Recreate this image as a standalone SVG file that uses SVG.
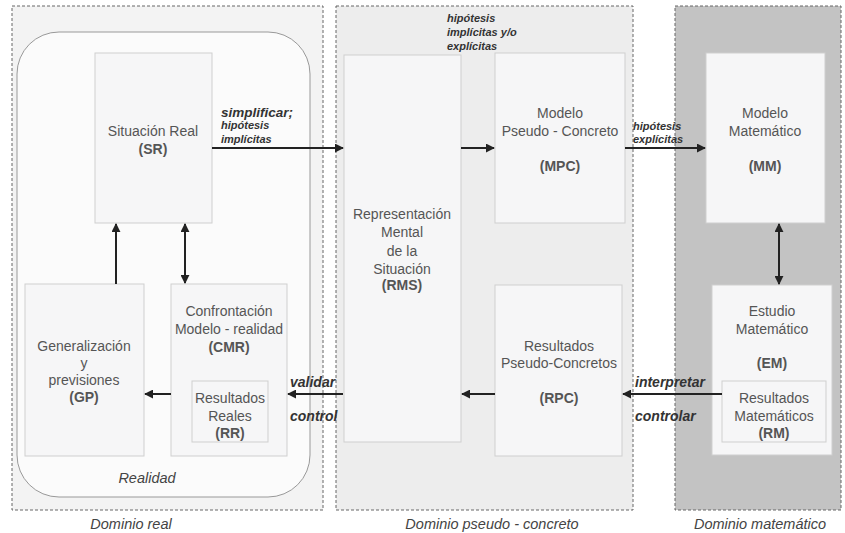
<svg xmlns="http://www.w3.org/2000/svg" width="845" height="533" viewBox="0 0 845 533">
<style>
.dom{stroke:#666;stroke-width:1;stroke-dasharray:3,2}
.box{fill:#f6f6f7;stroke:#cfcfcf;stroke-width:1}
.t{font-family:"Liberation Sans",Arial,sans-serif;font-size:14px;fill:#555;text-anchor:middle}
.b{font-weight:bold}
.lab{font-family:"Liberation Sans",Arial,sans-serif;font-style:italic;font-weight:bold;fill:#333}
.cap{font-family:"Liberation Sans",Arial,sans-serif;font-style:italic;font-size:14.5px;fill:#444;text-anchor:middle}
.c{stroke:#222;stroke-width:2;fill:none}
</style>
<defs>
<marker id="ah" viewBox="0 0 10 10" refX="9" refY="5" markerWidth="4.5" markerHeight="4.5" orient="auto-start-reverse">
<path d="M0,0 L10,5 L0,10 z" fill="#222"/>
</marker>
</defs>
<rect width="845" height="533" fill="#ffffff"/>
<g id="dominio-real">
<rect class="dom" x="12" y="6" width="311" height="504" fill="#f3f3f3"/>
<rect x="17" y="32" width="293" height="465" rx="42" fill="#fbfbfb" stroke="#999" stroke-width="1"/>
<text class="cap" x="147" y="483">Realidad</text>
<text class="cap" x="131" y="529">Dominio real</text>
</g>
<g id="dominio-pseudo">
<rect class="dom" x="336" y="6" width="297" height="504" fill="#ededed"/>
<text class="cap" x="492" y="529">Dominio pseudo - concreto</text>
</g>
<g id="dominio-mat">
<rect class="dom" x="675" y="6" width="166" height="504" fill="#c3c3c3"/>
<text class="cap" x="760" y="529">Dominio  matemático</text>
</g>
<g id="SR">
<rect class="box" x="95" y="53" width="117" height="170"/>
<text class="t" x="153" y="136">Situación Real</text>
<text class="t b" x="153" y="154">(SR)</text>
</g>
<g id="GP">
<rect class="box" x="25" y="284" width="119" height="172"/>
<text class="t" x="84" y="351">Generalización</text>
<text class="t" x="84" y="368">y</text>
<text class="t" x="84" y="385">previsiones</text>
<text class="t b" x="84" y="402">(GP)</text>
</g>
<g id="CMR">
<rect class="box" x="171" y="284" width="116" height="172"/>
<text class="t" x="229" y="316">Confrontación</text>
<text class="t" x="229" y="334">Modelo - realidad</text>
<text class="t b" x="229" y="352">(CMR)</text>
</g>
<g id="RR">
<rect class="box" x="192" y="381" width="76" height="61"/>
<text class="t" x="230" y="403">Resultados</text>
<text class="t" x="230" y="421">Reales</text>
<text class="t b" x="230" y="438">(RR)</text>
</g>
<g id="RMS">
<rect class="box" x="344" y="55" width="117" height="387"/>
<text class="t" x="402" y="219">Representación</text>
<text class="t" x="402" y="237">Mental</text>
<text class="t" x="402" y="256">de la</text>
<text class="t" x="402" y="274">Situación</text>
<text class="t b" x="402" y="290">(RMS)</text>
</g>
<g id="MPC">
<rect class="box" x="495" y="53" width="130" height="170"/>
<text class="t" x="560" y="118">Modelo</text>
<text class="t" x="560" y="136">Pseudo - Concreto</text>
<text class="t b" x="560" y="171">(MPC)</text>
</g>
<g id="RPC">
<rect class="box" x="495" y="285" width="127" height="171"/>
<text class="t" x="559" y="351">Resultados</text>
<text class="t" x="559" y="368">Pseudo-Concretos</text>
<text class="t b" x="559" y="403">(RPC)</text>
</g>
<g id="MM">
<rect class="box" x="706" y="53" width="119" height="170" stroke="#e8e8e8"/>
<text class="t" x="765" y="118">Modelo</text>
<text class="t" x="765" y="136">Matemático</text>
<text class="t b" x="765" y="171">(MM)</text>
</g>
<g id="EM">
<rect class="box" x="712" y="285" width="120" height="170" stroke="#e8e8e8"/>
<text class="t" x="772" y="316">Estudio</text>
<text class="t" x="772" y="334">Matemático</text>
<text class="t b" x="772" y="368">(EM)</text>
</g>
<g id="RM">
<rect class="box" x="722" y="381" width="104" height="61"/>
<text class="t" x="774" y="403">Resultados</text>
<text class="t" x="774" y="421">Matemáticos</text>
<text class="t b" x="774" y="438">(RM)</text>
</g>
<g id="connectors">
<line class="c" x1="212" y1="148" x2="343" y2="148" marker-end="url(#ah)"/>
<line class="c" x1="461" y1="148" x2="494" y2="148" marker-end="url(#ah)"/>
<line class="c" x1="625" y1="148" x2="705" y2="148" marker-end="url(#ah)"/>
<line class="c" x1="116" y1="284" x2="116" y2="224" marker-end="url(#ah)"/>
<line class="c" x1="185" y1="224" x2="185" y2="283" marker-start="url(#ah)" marker-end="url(#ah)"/>
<line class="c" x1="779" y1="224" x2="779" y2="284" marker-start="url(#ah)" marker-end="url(#ah)"/>
<line class="c" x1="171" y1="394" x2="145" y2="394" marker-end="url(#ah)"/>
<line class="c" x1="343" y1="394" x2="288" y2="394" marker-end="url(#ah)"/>
<line class="c" x1="495" y1="394" x2="462" y2="394" marker-end="url(#ah)"/>
<line class="c" x1="722" y1="394" x2="623" y2="394" marker-end="url(#ah)"/>
<text class="lab" x="221" y="117" font-size="13.5">simplificar;</text>
<text class="lab" x="221" y="129" font-size="11">hipótesis</text>
<text class="lab" x="221" y="143" font-size="11">implícitas</text>
<text class="lab" x="447" y="22" font-size="11">hipótesis</text>
<text class="lab" x="447" y="36" font-size="11">implícitas y/o</text>
<text class="lab" x="447" y="50" font-size="11">explícitas</text>
<text class="lab" x="633" y="130" font-size="11">hipótesis</text>
<text class="lab" x="633" y="143" font-size="11">explícitas</text>
<text class="lab" x="290" y="387" font-size="14">validar</text>
<text class="lab" x="290" y="421" font-size="14">control</text>
<text class="lab" x="635" y="387" font-size="14">interpretar</text>
<text class="lab" x="635" y="421" font-size="14">controlar</text>
</g>
</svg>
